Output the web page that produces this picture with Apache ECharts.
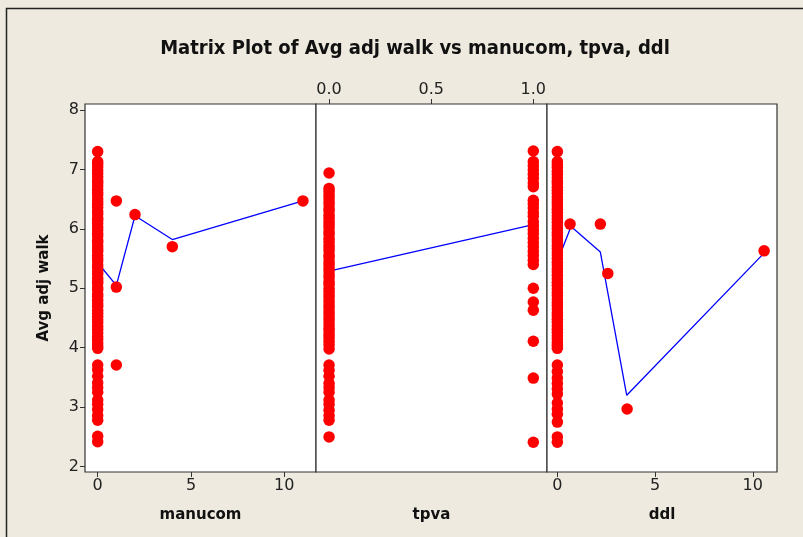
<!DOCTYPE html>
<html>
<head>
<meta charset="utf-8">
<script src="https://cdn.jsdelivr.net/npm/echarts@6/dist/echarts.min.js"></script>
<style>
html,body{margin:0;padding:0;background:#EEEADF;}
#chart{width:803px;height:537px;}
</style>
</head>
<body>
<div id="chart"></div>
<script>
// ---- data ----
const yTicks = [2, 3, 4, 5, 6, 7, 8];
const xTicksCount = [0, 5, 10];
const xTicksBinary = [0, 0.5, 1];

// Panel 1: Avg adj walk vs manucom
const manucomZeroWalk = [7.30, 7.13, 7.09, 7.04, 6.98, 6.93, 6.87, 6.81, 6.77, 6.72, 6.66, 6.61, 6.57, 6.50,
  6.45, 6.41, 6.36, 6.29, 6.25, 6.18, 6.14, 6.09, 6.03, 5.98, 5.92, 5.88, 5.81, 5.77, 5.71, 5.66, 5.62,
  5.55, 5.50, 5.46, 5.39, 5.35, 5.28, 5.24, 5.17, 5.12, 5.08, 5.01, 4.97, 4.90, 4.86, 4.80, 4.74, 4.70,
  4.63, 4.58, 4.53, 4.47, 4.42, 4.36, 4.31, 4.25, 4.19, 4.14, 4.08, 4.03, 3.99,
  3.71, 3.63, 3.52, 3.41, 3.33, 3.25, 3.12, 3.05, 2.96, 2.86, 2.78, 2.51, 2.42];
const manucomOtherX = [1, 1, 1, 2, 4, 11];
const manucomOtherWalk = [6.47, 5.02, 3.71, 6.24, 5.70, 6.47];
const manucomSmoothX = [0, 1, 2, 4, 11];
const manucomSmoothWalk = [5.43, 5.05, 6.22, 5.82, 6.47];

// Panel 2: Avg adj walk vs tpva
const tpvaZeroWalk = [6.94, 6.68, 6.63, 6.57, 6.52, 6.46, 6.41, 6.34, 6.30, 6.23, 6.18, 6.12, 6.07, 6.02,
  5.95, 5.91, 5.84, 5.79, 5.73, 5.68, 5.63, 5.56, 5.52, 5.45, 5.40, 5.34, 5.29, 5.23, 5.18, 5.11, 5.07,
  5.00, 4.95, 4.89, 4.84, 4.78, 4.72, 4.67, 4.61, 4.56, 4.50, 4.45, 4.39, 4.33, 4.28, 4.22, 4.17, 4.11,
  4.05, 3.98, 3.71, 3.62, 3.52, 3.40, 3.33, 3.25, 3.12, 3.05, 2.95, 2.86, 2.78, 2.50];
const tpvaOneWalk = [7.31, 7.13, 7.06, 6.99, 6.92, 6.85, 6.77, 6.71, 6.48, 6.42, 6.35, 6.27, 6.21, 6.12,
  6.05, 5.98, 5.92, 5.84, 5.77, 5.70, 5.62, 5.55, 5.47, 5.40, 5.00, 4.77, 4.63, 4.11, 3.49, 2.41];
const tpvaSmoothX = [0, 1];
const tpvaSmoothWalk = [5.29, 6.07];

// Panel 3: Avg adj walk vs ddl
const ddlZeroWalk = [7.30, 7.13, 7.08, 7.03, 6.97, 6.92, 6.86, 6.80, 6.76, 6.70, 6.65, 6.60, 6.54, 6.49,
  6.44, 6.39, 6.33, 6.28, 6.22, 6.17, 6.11, 6.05, 6.00, 5.94, 5.89, 5.83, 5.78, 5.72, 5.67, 5.61, 5.56,
  5.50, 5.44, 5.39, 5.33, 5.28, 5.22, 5.16, 5.10, 5.05, 4.99, 4.93, 4.88, 4.82, 4.76, 4.71, 4.65, 4.59,
  4.54, 4.48, 4.43, 4.37, 4.31, 4.26, 4.20, 4.15, 4.09, 4.04, 3.99,
  3.71, 3.60, 3.49, 3.40, 3.31, 3.22, 3.07, 2.97, 2.88, 2.75, 2.50, 2.41];
const ddlOtherX = [0.65, 2.2, 2.58, 3.57, 10.58];
const ddlOtherWalk = [6.08, 6.08, 5.25, 2.97, 5.63];
const ddlSmoothX = [0, 0.7, 2.2, 3.55, 10.6];
const ddlSmoothWalk = [5.45, 6.04, 5.61, 3.20, 5.60];

// ---- chart ----
const FONT = 'DejaVu Sans';
const RED = '#FF0000';
const BLUE = '#0000FF';
const Y_MIN = 1.91, Y_MAX = 8.1;

function pairs(xs, ys) { return xs.map((x, i) => [x, ys[i]]); }
function col(x, ys) { return ys.map(y => [x, y]); }

const grids = [
  {left: 85, top: 104, width: 231, height: 368},
  {left: 316, top: 104, width: 231, height: 368},
  {left: 547, top: 104, width: 230, height: 368}
].map(g => Object.assign(g, {show: true, backgroundColor: '#FFFFFF', borderColor: '#333333', borderWidth: 1.2}));

const labelStyle = {color: '#222222', fontFamily: FONT, fontSize: 16, margin: 6};
const tickStyle = {show: true, inside: false, length: 5, lineStyle: {color: '#333333', width: 1}};
const nameStyle = {color: '#111111', fontFamily: FONT, fontSize: 15, fontWeight: 'bold'};
const noLine = {show: false, onZero: false};

function countAxis(gi, min, max, name) {
  return {
    type: 'value', gridIndex: gi, position: 'bottom', min: min, max: max,
    splitLine: {show: false}, axisLine: noLine,
    axisTick: Object.assign({customValues: xTicksCount}, tickStyle),
    axisLabel: Object.assign({customValues: xTicksCount}, labelStyle),
    name: name, nameLocation: 'middle', nameGap: 36, nameTextStyle: nameStyle
  };
}

const xAxes = [
  countAxis(0, -0.68, 11.7, 'manucom'),
  {
    type: 'value', gridIndex: 1, position: 'top', min: -0.064, max: 1.067,
    splitLine: {show: false}, axisLine: noLine,
    axisTick: Object.assign({customValues: xTicksBinary}, tickStyle),
    axisLabel: Object.assign({customValues: xTicksBinary, formatter: v => v.toFixed(1)}, labelStyle)
  },
  countAxis(2, -0.53, 11.24, 'ddl'),
  {
    type: 'value', gridIndex: 1, position: 'bottom', min: -0.064, max: 1.067,
    splitLine: {show: false}, axisLine: noLine, axisTick: {show: false}, axisLabel: {show: false},
    name: 'tpva', nameLocation: 'middle', nameGap: 36, nameTextStyle: nameStyle
  }
];

const yAxes = [0, 1, 2].map(gi => ({
  type: 'value', gridIndex: gi, position: 'left', min: Y_MIN, max: Y_MAX,
  splitLine: {show: false}, axisLine: noLine,
  axisTick: gi === 0 ? Object.assign({customValues: yTicks}, tickStyle) : {show: false},
  axisLabel: gi === 0 ? Object.assign({customValues: yTicks}, labelStyle) : {show: false},
  name: gi === 0 ? 'Avg adj walk' : '', nameLocation: 'middle', nameGap: 33, nameRotate: 90,
  nameTextStyle: nameStyle
}));

function scatter(xi, yi, data) {
  return {type: 'scatter', xAxisIndex: xi, yAxisIndex: yi, data: data, symbolSize: 11.5,
    itemStyle: {color: RED, opacity: 1}, silent: true, z: 3};
}
function smooth(xi, yi, data) {
  return {type: 'line', xAxisIndex: xi, yAxisIndex: yi, data: data, symbol: 'none',
    lineStyle: {color: BLUE, width: 1.3}, silent: true, z: 2};
}

const option = {
  animation: false,
  backgroundColor: '#EEEADF',
  title: {
    text: 'Matrix Plot of Avg adj walk vs manucom, tpva, ddl',
    left: 410, top: 34, textAlign: 'center',
    textStyle: {fontFamily: 'DejaVu Sans Condensed', fontWeight: 'bold', fontSize: 20, color: '#111111'}
  },
  grid: grids,
  xAxis: xAxes,
  yAxis: yAxes,
  graphic: [
    {type: 'polyline', shape: {points: [[6.5, 537], [6.5, 8.5], [803, 8.5]]},
      style: {stroke: '#222222', lineWidth: 1.5, fill: null}, silent: true}
  ],
  series: [
    smooth(0, 0, pairs(manucomSmoothX, manucomSmoothWalk)),
    scatter(0, 0, col(0, manucomZeroWalk)),
    scatter(0, 0, pairs(manucomOtherX, manucomOtherWalk)),
    smooth(1, 1, pairs(tpvaSmoothX, tpvaSmoothWalk)),
    scatter(1, 1, col(0, tpvaZeroWalk)),
    scatter(1, 1, col(1, tpvaOneWalk)),
    smooth(2, 2, pairs(ddlSmoothX, ddlSmoothWalk)),
    scatter(2, 2, col(0, ddlZeroWalk)),
    scatter(2, 2, pairs(ddlOtherX, ddlOtherWalk))
  ]
};

const chart = echarts.init(document.getElementById('chart'), null, {renderer: 'canvas'});
chart.setOption(option);
</script>
</body>
</html>
